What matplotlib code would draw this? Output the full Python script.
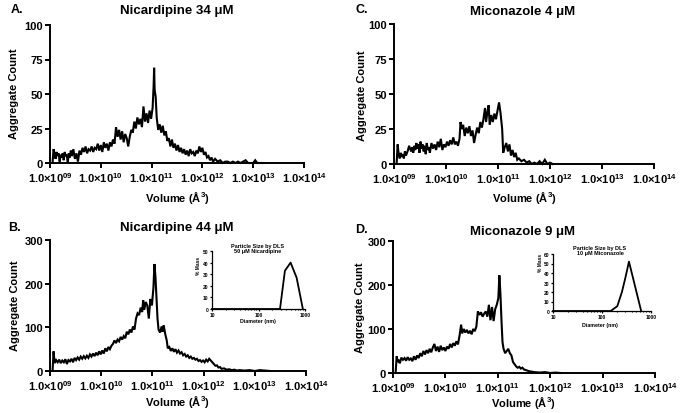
import numpy as np
import matplotlib
matplotlib.use('Agg')
import matplotlib.pyplot as plt
from matplotlib.ticker import NullLocator

plt.rcParams['font.family'] = ['Liberation Sans', 'DejaVu Sans']
plt.rcParams['font.weight'] = 'bold'
plt.rcParams['mathtext.fontset'] = 'custom'
plt.rcParams['mathtext.rm'] = 'Liberation Sans:bold'
plt.rcParams['mathtext.bf'] = 'Liberation Sans:bold'
plt.rcParams['mathtext.it'] = 'Liberation Sans:bold'
plt.rcParams['mathtext.default'] = 'rm'

# ---------------- data ----------------
x_ticks = [1e9, 1e10, 1e11, 1e12, 1e13, 1e14]
x_ticklabels = ['1.0×10$^{09}$', '1.0×10$^{10}$', '1.0×10$^{11}$',
                '1.0×10$^{12}$', '1.0×10$^{13}$', '1.0×10$^{14}$']
yticks_small = [0, 25, 50, 75, 100]
yticks_big = [0, 100, 200, 300]

titles = ['Nicardipine 34 μM', 'Nicardipine 44 μM', 'Miconazole 4 μM', 'Miconazole 9 μM']
letters = ['A.', 'B.', 'C.', 'D.']

a_logv = [9.05, 9.07, 9.09, 9.11, 9.13, 9.15, 9.17, 9.19, 9.21, 9.23, 9.25, 9.27, 9.29, 9.31, 9.33, 9.35,
          9.37, 9.39, 9.41, 9.43, 9.46, 9.49, 9.52, 9.55, 9.58, 9.61, 9.64, 9.67, 9.70, 9.73, 9.76, 9.79,
          9.82, 9.85, 9.88, 9.91, 9.94, 9.97, 10.00, 10.03, 10.06, 10.09, 10.12, 10.15, 10.18, 10.21,
          10.24, 10.27, 10.30, 10.33, 10.36, 10.39, 10.42, 10.45, 10.48, 10.51, 10.54, 10.57, 10.60,
          10.63, 10.66, 10.69, 10.72, 10.75, 10.78, 10.81, 10.84, 10.87, 10.90, 10.93, 10.96, 10.99,
          11.02, 11.04, 11.05, 11.06, 11.08, 11.10, 11.13, 11.16, 11.19, 11.22, 11.25, 11.28, 11.31,
          11.34, 11.37, 11.40, 11.43, 11.46, 11.49, 11.52, 11.55, 11.58, 11.61, 11.64, 11.67, 11.70,
          11.73, 11.76, 11.79, 11.82, 11.85, 11.88, 11.91, 11.94, 11.97, 12.00, 12.03, 12.06, 12.09,
          12.12, 12.15, 12.18, 12.21, 12.25, 12.30, 12.35, 12.40, 12.45, 12.50, 12.55, 12.60, 12.65,
          12.70, 12.75, 12.85, 12.90, 13.00, 13.04, 13.08, 13.20]
a_count = [0, 10, 7, 3, 8, 5, 7, 1, 6, 4, 7, 2, 8, 5, 6, 0,
           7, 4, 9, 5, 10, 3, 7, 1, 9, 6, 11, 8, 12, 7, 10, 9,
           12, 8, 11, 10, 14, 9, 13, 8, 15, 11, 14, 9, 15, 12,
           17, 14, 26, 19, 24, 17, 23, 15, 21, 18, 12, 19, 24,
           22, 30, 25, 33, 28, 32, 26, 41, 30, 36, 29, 38, 32,
           40, 56, 69, 53, 48, 33, 24, 28, 22, 27, 20, 23, 16,
           18, 12, 17, 11, 14, 9, 13, 8, 11, 7, 10, 6, 9,
           5, 10, 7, 8, 5, 9, 7, 12, 8, 11, 6, 8, 4,
           5, 2, 4, 1, 3, 1, 2, 0, 1, 1, 0, 1, 0,
           1, 0, 2, 0, 0, 2, 0, 0]

b_logv = [9.05, 9.07, 9.09, 9.12, 9.15, 9.18, 9.21, 9.24, 9.27, 9.30, 9.33, 9.36, 9.39, 9.42, 9.45,
          9.48, 9.51, 9.54, 9.57, 9.60, 9.63, 9.66, 9.69, 9.72, 9.75, 9.78, 9.81, 9.84, 9.87, 9.90,
          9.93, 9.96, 9.99, 10.02, 10.05, 10.08, 10.11, 10.14, 10.17, 10.20, 10.23, 10.26, 10.29,
          10.32, 10.35, 10.38, 10.41, 10.44, 10.47, 10.50, 10.53, 10.56, 10.59, 10.62, 10.65, 10.68,
          10.71, 10.74, 10.77, 10.80, 10.82, 10.84, 10.87, 10.90, 10.93, 10.96, 10.99, 11.02, 11.04,
          11.06, 11.08, 11.10, 11.12, 11.15, 11.18, 11.20, 11.22, 11.25, 11.28, 11.30, 11.33, 11.36,
          11.39, 11.42, 11.45, 11.48, 11.51, 11.54, 11.57, 11.60, 11.63, 11.66, 11.69, 11.72, 11.75,
          11.78, 11.81, 11.84, 11.87, 11.90, 11.93, 11.96, 11.99, 12.02, 12.05, 12.08, 12.11, 12.14,
          12.17, 12.20, 12.23, 12.26, 12.29, 12.32, 12.35, 12.40, 12.45, 12.50, 12.55, 12.60, 12.65,
          12.70, 12.80, 12.90, 13.00, 13.10, 13.20, 13.30]
b_count = [0, 45, 18, 25, 20, 26, 18, 24, 20, 27, 16, 25, 22, 28, 20,
           30, 25, 31, 26, 33, 28, 34, 29, 35, 30, 38, 33, 40, 34, 42,
           36, 45, 38, 47, 40, 52, 45, 55, 50, 58, 62, 70, 64,
           72, 68, 78, 72, 80, 75, 90, 84, 95, 88, 102, 95, 120,
           132, 128, 145, 135, 162, 140, 158, 150, 120, 165, 150, 190, 245,
           215, 165, 120, 95, 88, 102, 90, 105, 85, 70, 52, 55, 46,
           52, 44, 50, 42, 47, 40, 43, 36, 39, 33, 36, 30, 33,
           28, 30, 26, 28, 23, 25, 21, 24, 20, 26, 22, 28, 24,
           20, 16, 12, 13, 8, 9, 5, 6, 3, 4, 2, 3, 1,
           2, 1, 2, 0, 2, 1, 0]

c_logv = [9.05, 9.07, 9.09, 9.11, 9.13, 9.15, 9.17, 9.19, 9.21, 9.23, 9.25, 9.27, 9.29, 9.31, 9.33,
          9.35, 9.37, 9.39, 9.41, 9.43, 9.45, 9.47, 9.49, 9.51, 9.53, 9.55, 9.57, 9.59, 9.61, 9.63,
          9.65, 9.67, 9.69, 9.72, 9.75, 9.78, 9.81, 9.84, 9.87, 9.90, 9.93, 9.96, 9.99, 10.02, 10.05,
          10.08, 10.11, 10.14, 10.17, 10.20, 10.23, 10.26, 10.28, 10.30, 10.33, 10.36, 10.39, 10.42,
          10.45, 10.48, 10.51, 10.54, 10.57, 10.60, 10.63, 10.66, 10.69, 10.72, 10.75, 10.77, 10.80,
          10.82, 10.84, 10.87, 10.90, 10.93, 10.96, 10.99, 11.02, 11.05, 11.08, 11.10, 11.13, 11.16,
          11.19, 11.22, 11.25, 11.28, 11.31, 11.34, 11.37, 11.40, 11.45, 11.50, 11.55, 11.60, 11.65,
          11.70, 11.75, 11.80, 11.85, 11.90, 11.95, 12.00, 12.05]
c_count = [0, 14, 7, 4, 8, 5, 7, 4, 9, 6, 8, 10, 13, 11, 9,
           12, 8, 13, 10, 15, 11, 14, 8, 16, 11, 14, 9, 13, 7, 15,
           10, 12, 8, 15, 11, 14, 10, 16, 12, 18, 10, 14, 12, 16, 13,
           17, 14, 19, 14, 16, 13, 18, 30, 25, 28, 20, 26, 22,
           27, 20, 24, 15, 21, 26, 22, 30, 26, 32, 40, 30, 38,
           42, 28, 35, 30, 36, 32, 38, 44, 36, 25, 8, 12, 15,
           9, 14, 6, 10, 5, 8, 3, 4, 2, 3, 1, 2, 0,
           1, 0, 2, 0, 3, 0, 1, 0]

d_logv = [9.05, 9.07, 9.09, 9.11, 9.13, 9.16, 9.19, 9.22, 9.25, 9.28, 9.31, 9.34, 9.37, 9.40, 9.43,
          9.46, 9.49, 9.52, 9.55, 9.58, 9.61, 9.64, 9.67, 9.70, 9.73, 9.76, 9.79, 9.82, 9.85, 9.88,
          9.91, 9.94, 9.97, 10.00, 10.03, 10.06, 10.09, 10.12, 10.15, 10.18, 10.21, 10.24, 10.27,
          10.30, 10.32, 10.35, 10.38, 10.41, 10.44, 10.47, 10.50, 10.53, 10.56, 10.59, 10.62, 10.65,
          10.68, 10.71, 10.74, 10.77, 10.80, 10.83, 10.86, 10.89, 10.92, 10.95, 10.98, 11.01, 11.03,
          11.05, 11.07, 11.09, 11.11, 11.14, 11.17, 11.20, 11.23, 11.26, 11.29, 11.32, 11.35, 11.38,
          11.41, 11.44, 11.47, 11.50, 11.55, 11.60, 11.65, 11.70, 11.80, 11.90, 12.00, 12.10, 12.20]
d_count = [0, 38, 25, 30, 22, 35, 30, 34, 28, 36, 30, 33, 27, 38, 30,
           40, 34, 45, 38, 50, 42, 52, 45, 55, 47, 58, 66, 50, 60, 48,
           62, 52, 58, 50, 60, 55, 66, 58, 68, 62, 72, 65, 85,
           110, 90, 100, 92, 98, 90, 96, 88, 100, 95, 105, 140, 132,
           138, 128, 135, 140, 128, 155, 120, 150, 118, 145, 155, 170, 222,
           180, 120, 70, 55, 45, 50, 55, 45, 40, 25, 20, 15, 12,
           14, 10, 12, 8, 6, 4, 3, 2, 1, 2, 0, 1, 0]

# DLS insets
dls_b_diam = [10, 100, 290, 370, 490, 660, 900]
dls_b_mass = [0, 0, 0, 33, 40, 27, 0]
dls_d_diam = [10, 100, 150, 205, 255, 300, 355, 630]
dls_d_mass = [0, 0, 0, 5, 20, 35, 52, 0]
dls_b_title = 'Particle Size by DLS\n50 μM Nicardipine'
dls_d_title = 'Particle Size by DLS\n10 μM Miconazole'
dls_b_yticks = [0, 10, 20, 30, 40, 50]
dls_d_yticks = [0, 10, 20, 30, 40, 50, 60]
dls_xticks = [10, 100, 1000]
dls_xticklabels = ['10', '100', '1000']

# ---------------- layout ----------------
W, H = 682, 414
fig = plt.figure(figsize=(W / 100, H / 100), dpi=100)
fig.patch.set_facecolor('white')


def fx(px):
    return px / W


def fy(py):
    return 1 - py / H


def add_px_axes(left, top, right, bottom):
    return fig.add_axes([fx(left), fy(bottom), (right - left) / W, (bottom - top) / H])


def style_axes(ax, lw, ticklen, fs):
    for s in ['top', 'right']:
        ax.spines[s].set_visible(False)
    for s in ['left', 'bottom']:
        ax.spines[s].set_linewidth(lw)
    ax.tick_params(axis='both', which='major', direction='out', length=ticklen,
                   width=lw, labelsize=fs, pad=1.5)


panels = [
    dict(rect=(50, 26, 304, 164), logv=a_logv, cnt=a_count, yt=yticks_small, ymax=100,
         title_xy=(177, 11), letter_xy=(11, 10), ylab_xy=(14, 94), xlab_xy=(177, 198)),
    dict(rect=(50, 241, 306, 372), logv=b_logv, cnt=b_count, yt=yticks_big, ymax=300,
         title_xy=(177, 228), letter_xy=(8, 228), ylab_xy=(15, 306), xlab_xy=(177, 402)),
    dict(rect=(394, 25, 654, 165), logv=c_logv, cnt=c_count, yt=yticks_small, ymax=100,
         title_xy=(523, 12), letter_xy=(356, 10), ylab_xy=(362, 96), xlab_xy=(524, 198)),
    dict(rect=(393, 242, 655, 374), logv=d_logv, cnt=d_count, yt=yticks_big, ymax=300,
         title_xy=(523, 232), letter_xy=(355, 230), ylab_xy=(360, 308), xlab_xy=(523, 403)),
]

for i, p in enumerate(panels):
    ax = add_px_axes(*p['rect'])
    xv = np.power(10.0, np.array(p['logv']))
    ax.plot(xv, p['cnt'], color='black', lw=1.5, solid_joinstyle='miter', clip_on=False)
    ax.set_xscale('log')
    ax.set_xlim(1e9, 1e14)
    ax.set_ylim(0, p['ymax'])
    ax.set_xticks(x_ticks, x_ticklabels)
    ax.xaxis.set_minor_locator(NullLocator())
    ax.set_yticks(p['yt'])
    style_axes(ax, 1.4, 3.5, 8)
    ax.set_ylabel('Aggregate Count', fontsize=8, fontweight='bold', va='center', ha='center')
    ax.yaxis.set_label_coords(fx(p['ylab_xy'][0]), fy(p['ylab_xy'][1]), transform=fig.transFigure)
    ax.set_xlabel('Volume (Å$^3$)', fontsize=8, fontweight='bold', va='center', ha='center')
    ax.xaxis.set_label_coords(fx(p['xlab_xy'][0]), fy(p['xlab_xy'][1]), transform=fig.transFigure)
    fig.text(fx(p['title_xy'][0]), fy(p['title_xy'][1]), titles[i], fontsize=9.5,
             fontweight='bold', ha='center', va='center')
    fig.text(fx(p['letter_xy'][0]), fy(p['letter_xy'][1]), letters[i], fontsize=9,
             fontweight='bold', ha='left', va='center')

insets = [
    dict(rect=(212, 252, 305, 310), d=dls_b_diam, m=dls_b_mass, yt=dls_b_yticks, ymax=50,
         title=dls_b_title, title_xy=(258, 249), ylab_xy=(198, 266), xlab_xy=(258, 322)),
    dict(rect=(553, 255, 651, 312), d=dls_d_diam, m=dls_d_mass, yt=dls_d_yticks, ymax=60,
         title=dls_d_title, title_xy=(600, 251), ylab_xy=(540, 263), xlab_xy=(600, 325)),
]

for q in insets:
    ax = add_px_axes(*q['rect'])
    ax.plot(q['d'], q['m'], color='black', lw=1.3, clip_on=False)
    ax.set_xscale('log')
    ax.set_xlim(10, 1000)
    ax.set_ylim(0, q['ymax'])
    ax.set_xticks(dls_xticks, dls_xticklabels)
    ax.set_yticks(q['yt'])
    style_axes(ax, 0.9, 1.5, 3.5)
    ax.tick_params(axis='x', which='minor', direction='out', length=1.0, width=0.8)
    ax.tick_params(pad=1)
    ax.set_ylabel('% Mass', fontsize=3.5, fontweight='bold', va='center', ha='center')
    ax.yaxis.set_label_coords(fx(q['ylab_xy'][0]), fy(q['ylab_xy'][1]), transform=fig.transFigure)
    ax.set_xlabel('Diameter (nm)', fontsize=3.8, fontweight='bold', va='center', ha='center')
    ax.xaxis.set_label_coords(fx(q['xlab_xy'][0]), fy(q['xlab_xy'][1]), transform=fig.transFigure)
    fig.text(fx(q['title_xy'][0]), fy(q['title_xy'][1]), q['title'], fontsize=4,
             fontweight='bold', ha='center', va='center', linespacing=1.1)

fig.savefig('out.png', dpi=100, facecolor='white')
